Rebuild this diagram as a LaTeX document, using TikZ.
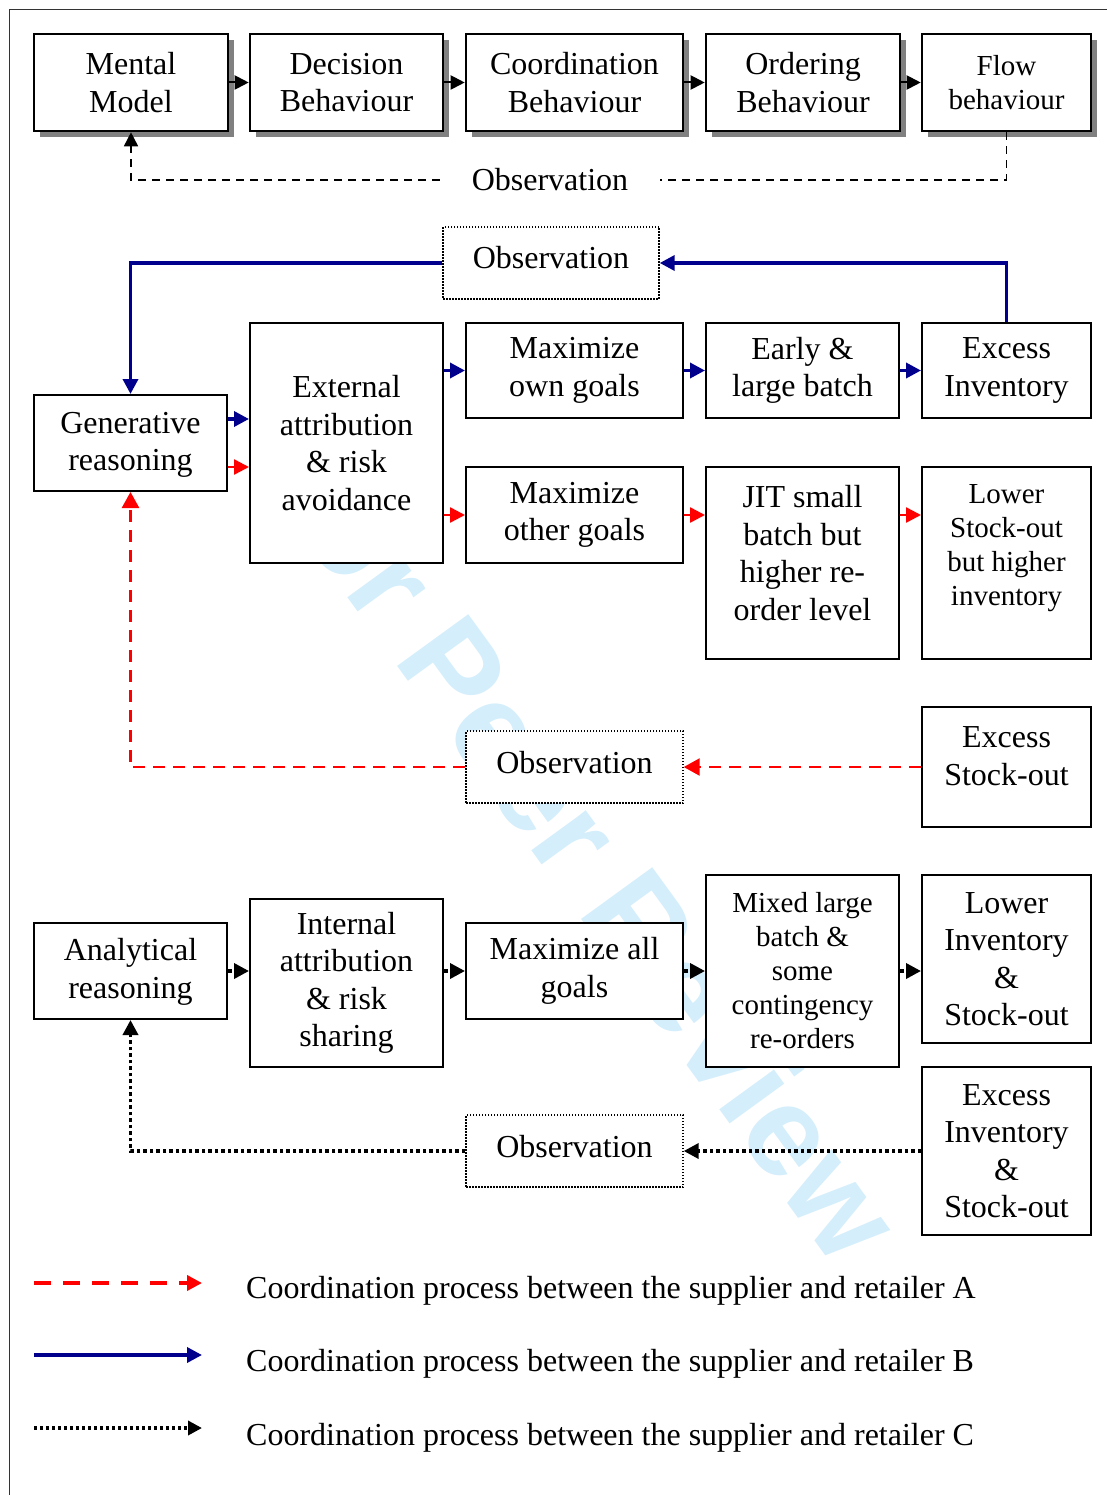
\documentclass[tikz,border=0pt]{standalone}
\usepackage{fontspec}
\setmainfont{Liberation Serif}
\newfontfamily\wmfont{Liberation Sans}
\usetikzlibrary{arrows.meta,shadows}
\definecolor{navyB}{RGB}{0,0,140}
\definecolor{wmblue}{RGB}{212,238,251}
\newcommand\mainsz{\fontsize{32}{37.5}\selectfont}
\newcommand\smallsz{\fontsize{29}{34}\selectfont}
\begin{document}
\begin{tikzpicture}[x=1pt,y=-1pt,
  box/.style={draw=black, line width=2pt, fill=white, rectangle, inner sep=0pt, align=center, font=\mainsz},
  topbox/.style={box, line width=2.6pt, minimum height=97pt,
     drop shadow={shadow xshift=6pt, shadow yshift=-6pt, fill=black!50, opacity=1}},
  obsbox/.style={draw=black, line width=1.4pt, dash pattern=on 1.5pt off 1.5pt, fill=white, inner sep=0pt,
     font=\mainsz, text height=22pt, text depth=10pt, minimum height=72pt},
  txt/.style={inner sep=0pt, align=center, font=\mainsz},
  tipK/.style={-{Triangle[length=14pt,width=14pt]}},
  blackarr/.style={draw=black, line width=2pt, tipK},
  dashK/.style={draw=black, line width=1.6pt, dash pattern=on 8pt off 6pt},
  blueS/.style={draw=navyB, line width=3.5pt, -{Triangle[length=15pt,width=15pt]}},
  redS/.style={draw=red, line width=2.5pt, -{Triangle[length=15pt,width=15pt]}},
  redD/.style={draw=red, line width=2.5pt, dash pattern=on 12pt off 8pt, -{Triangle[length=16pt,width=17pt]}},
  dotK/.style={draw=black, line width=3.5pt, dash pattern=on 3.5pt off 3pt, -{Triangle[length=15pt,width=15pt]}}
]
\useasboundingbox (0,0) rectangle (1107,1495);
% watermark
\node[font=\wmfont\bfseries\fontsize{128}{128}\selectfont, text=wmblue, rotate=-54, inner sep=0pt] (wm) at (580,840) {For Peer Review};
% frame
\draw[line width=1.5pt, black!80] (9.5,1495) -- (9.5,9.5) -- (1107,9.5);

% ---------- row 1
\node[topbox, minimum width=194pt] (mental) at (131,82.5) {Mental\\Model};
\node[topbox, minimum width=193pt] (decision) at (346.5,82.5) {Decision\\Behaviour};
\node[topbox, minimum width=217pt] (coord) at (574.5,82.5) {Coordination\\Behaviour};
\node[topbox, minimum width=194pt] (ordering) at (803,82.5) {Ordering\\Behaviour};
\node[topbox, minimum width=169pt, font=\smallsz] (flow) at (1006.5,82.5) {Flow\\behaviour};
\node[txt, minimum width=220pt] (obs1) at (550,180) {Observation};
\draw[blackarr] (mental) -- (decision);
\draw[blackarr] (decision) -- (coord);
\draw[blackarr] (coord) -- (ordering);
\draw[blackarr] (ordering) -- (flow);
\draw[dashK] (flow.south) |- (obs1.east);
\draw[dashK, tipK] (obs1.west) -| (mental.south);

% ---------- row 2 (retailer B / A)
\node[obsbox, minimum width=216pt] (obsB) at (551,263) {Observation};
\node[box, minimum width=193pt, minimum height=96pt] (gen) at (130.5,443) {};
\node[txt] (genT) at ([yshift=-2pt]gen.center) {Generative\\reasoning};
\node[box, minimum width=193pt, minimum height=240pt] (ext) at (346.5,443) {External\\attribution\\\& risk\\avoidance};
\node[box, minimum width=217pt, minimum height=95pt] (maxown) at (574.5,370.5) {Maximize\\own goals};
\node[box, minimum width=193pt, minimum height=95pt] (early) at (802.5,370.5) {Early \&\\large batch};
\node[box, minimum width=169pt, minimum height=95pt] (excess) at (1006.5,370.5) {Excess\\Inventory};
\node[box, minimum width=217pt, minimum height=96pt] (maxother) at (574.5,515) {Maximize\\other goals};
\node[box, minimum width=193pt, minimum height=192pt] (jit) at (802.5,563) {};
\node[txt] (jitT) at ([yshift=10pt]jit.center) {JIT small\\batch but\\higher re-\\order level};
\node[box, minimum width=169pt, minimum height=192pt] (lowerso) at (1006.5,563) {};
\node[txt, font=\smallsz] (lowersoT) at ([yshift=15pt]lowerso.center) {Lower\\Stock-out\\but higher\\inventory};
\node[box, minimum width=169pt, minimum height=120pt] (excessso) at (1006.5,767) {};
\node[txt] (excesssoT) at ([yshift=11pt]excessso.center) {Excess\\Stock-out};
\node[obsbox, minimum width=217pt] (obsA) at (574.5,767) {Observation};

\draw[blueS] ([yshift=24pt]gen.east) -- ([yshift=24pt]gen.east -| ext.west);
\draw[redS] ([yshift=-24pt]gen.east) -- ([yshift=-24pt]gen.east -| ext.west);
\draw[blueS] (maxown.west -| ext.east) -- (maxown.west);
\draw[redS] (maxother.west -| ext.east) -- (maxother.west);
\draw[blueS] (maxown) -- (early);
\draw[blueS] (early) -- (excess);
\draw[redS] (maxother.east) -- (maxother.east -| jit.west);
\draw[redS] (maxother.east -| jit.east) -- (maxother.east -| lowerso.west);
\draw[blueS] (excess.north) |- (obsB.east);
\draw[blueS] (obsB.west) -| (gen.north);
\draw[redD] (excessso.west) -- (obsA.east);
\draw[redD] (obsA.west) -| (gen.south);

% ---------- row 3 (retailer C)
\node[box, minimum width=193pt, minimum height=96pt] (anal) at (130.5,971) {};
\node[txt] (analT) at ([yshift=-1pt]anal.center) {Analytical\\reasoning};
\node[box, minimum width=193pt, minimum height=168pt] (internal) at (346.5,983) {Internal\\attribution\\\& risk\\sharing};
\node[box, minimum width=217pt, minimum height=96pt] (maxall) at (574.5,971) {Maximize all\\goals};
\node[box, minimum width=193pt, minimum height=192pt, font=\smallsz] (mixed) at (802.5,971) {Mixed large\\batch \&\\some\\contingency\\re-orders};
\node[box, minimum width=169pt, minimum height=168pt] (lowerinv) at (1006.5,959) {Lower\\Inventory\\\&\\Stock-out};
\node[box, minimum width=169pt, minimum height=168pt] (excessinv) at (1006.5,1151) {Excess\\Inventory\\\&\\Stock-out};
\node[obsbox, minimum width=217pt] (obsC) at (574.5,1151) {Observation};

\draw[dotK] (anal.east) -- (anal.east -| internal.west);
\draw[dotK] (anal.east -| internal.east) -- (maxall.west);
\draw[dotK] (maxall) -- (mixed);
\draw[dotK] (mixed.east) -- (mixed.east -| lowerinv.west);
\draw[dotK] (excessinv.west) -- (obsC.east);
\draw[dotK] (obsC.west) -| (anal.south);

% ---------- legend
\coordinate (lA1) at (34,1283); \coordinate (lA2) at (202,1283);
\coordinate (lB1) at (34,1355); \coordinate (lB2) at (202,1355);
\coordinate (lC1) at (34,1428); \coordinate (lC2) at (202,1428);
\draw[red, line width=4.5pt, dash pattern=on 17pt off 12pt, -{Triangle[length=15pt,width=15pt]}] (lA1) -- (lA2);
\draw[navyB, line width=3.5pt, -{Triangle[length=15pt,width=15pt]}] (lB1) -- (lB2);
\draw[black, line width=3.5pt, dash pattern=on 3pt off 3pt, -{Triangle[length=14pt,width=14pt]}] (lC1) -- (lC2);
\node[anchor=base west, inner sep=0pt, font=\mainsz] (legA) at (246,1298) {Coordination process between the supplier and retailer A};
\node[anchor=base west, inner sep=0pt, font=\mainsz] (legB) at (246,1371) {Coordination process between the supplier and retailer B};
\node[anchor=base west, inner sep=0pt, font=\mainsz] (legC) at (246,1445) {Coordination process between the supplier and retailer C};
\end{tikzpicture}
\end{document}
